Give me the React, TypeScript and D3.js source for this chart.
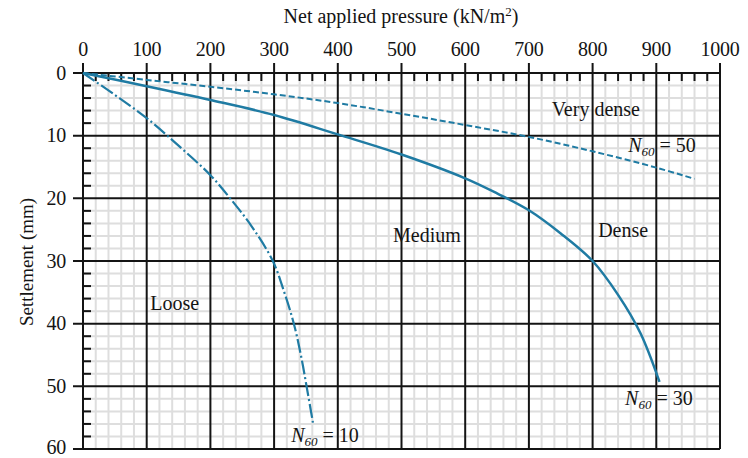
import React from "react";
import * as d3 from "d3";

const W = 748;
const H = 458;

const xTicks = [0, 100, 200, 300, 400, 500, 600, 700, 800, 900, 1000];
const yTicks = [0, 10, 20, 30, 40, 50, 60];

const n50X = [0, 100, 200, 300, 400, 500, 600, 700, 800, 900, 960];
const n50Y = [0, 1.1, 2.2, 3.4, 4.8, 6.5, 8.3, 10.2, 12.5, 15.1, 16.9];

const n30X = [0, 100, 200, 300, 400, 500, 600, 650, 700, 750, 800, 840, 875, 905];
const n30Y = [0, 2.1, 4.3, 6.7, 9.8, 13.0, 16.8, 19.2, 21.9, 25.6, 30, 35.4, 41.5, 49.3];

const n10X = [0, 50, 100, 150, 200, 231, 265, 298, 316, 331, 342, 351, 361];
const n10Y = [0, 3.5, 7.2, 11.6, 16.3, 20, 24.5, 30, 35, 40, 45, 50, 55.8];

const regionLabels = ["Very dense", "Medium", "Dense", "Loose"];
const regionX = [805, 540, 848, 144];
const regionY = [6.9, 27.0, 26.2, 37.8];

const curveLabelValues = ["50", "30", "10"];
const curveLabelX = [909, 904, 380];
const curveLabelY = [12.6, 52.9, 58.9];

const BLUE = "#1f7ba3";
const INK = "#141414";
const FONT = "'Liberation Serif', 'Times New Roman', serif";

export default function App() {
  const x = d3.scaleLinear().domain([0, 1000]).range([83, 720]);
  const y = d3.scaleLinear().domain([0, 60]).range([73, 449]);

  const minorX = d3.range(0, 1001, 20).filter((v) => v % 100 !== 0);
  const minorY = d3.range(0, 61, 2).filter((v) => v % 10 !== 0);

  const line = d3
    .line<[number, number]>()
    .x((d) => x(d[0]))
    .y((d) => y(d[1]))
    .curve(d3.curveCatmullRom.alpha(0.5));

  const p50 = line(n50X.map((v, i) => [v, n50Y[i]]));
  const p30 = line(n30X.map((v, i) => [v, n30Y[i]]));
  const p10 = line(n10X.map((v, i) => [v, n10Y[i]]));

  return (
    <svg
      width={W}
      height={H}
      style={{ position: "absolute", left: 0, top: 0, background: "#fff" }}
      fontFamily={FONT}
    >
      {/* minor grid */}
      <g stroke="#dedede" strokeWidth={2}>
        {minorX.map((v) => (
          <line key={"mx" + v} x1={x(v)} x2={x(v)} y1={y(0)} y2={y(60)} />
        ))}
        {minorY.map((v) => (
          <line key={"my" + v} x1={x(0)} x2={x(1000)} y1={y(v)} y2={y(v)} />
        ))}
      </g>
      {/* minor ticks */}
      <g stroke={INK} strokeWidth={2}>
        {minorX.map((v) => (
          <line key={"tx" + v} x1={x(v)} x2={x(v)} y1={y(0)} y2={y(0) + 8} />
        ))}
        {minorY.map((v) => (
          <line key={"ty" + v} x1={x(0)} x2={x(0) + 8} y1={y(v)} y2={y(v)} />
        ))}
      </g>
      {/* major grid */}
      <g stroke={INK} strokeWidth={2}>
        {xTicks.map((v) => (
          <line key={"Mx" + v} x1={x(v)} x2={x(v)} y1={y(0) - 10} y2={y(60)} />
        ))}
        {yTicks.map((v) => (
          <line key={"My" + v} x1={x(0) - 10} x2={x(1000)} y1={y(v)} y2={y(v)} />
        ))}
      </g>
      {/* tick labels */}
      <g fill={INK} fontSize={20}>
        {xTicks.map((v) => (
          <text key={"lx" + v} x={x(v)} y={56} textAnchor="middle" letterSpacing={-0.3}>
            {v}
          </text>
        ))}
        {yTicks.map((v) => (
          <text
            key={"ly" + v}
            x={66}
            y={y(v) - (v === 60 ? 2 : 0)}
            dy="0.33em"
            textAnchor="end"
            letterSpacing={-0.3}
          >
            {v}
          </text>
        ))}
      </g>
      <text x={401} y={23} textAnchor="middle" fontSize={20} fill={INK}>
        Net applied pressure (kN/m<tspan dy={-7} fontSize={13}>2</tspan>
        <tspan dy={7}>)</tspan>
      </text>
      <text
        transform="translate(33,262) rotate(-90)"
        textAnchor="middle"
        fontSize={19}
        fill={INK}
      >
        Settlement (mm)
      </text>

      {/* curves */}
      <path d={p50 ?? ""} fill="none" stroke={BLUE} strokeWidth={2} strokeDasharray="6 3" />
      <path d={p30 ?? ""} fill="none" stroke={BLUE} strokeWidth={2.5} />
      <path d={p10 ?? ""} fill="none" stroke={BLUE} strokeWidth={2.2} strokeDasharray="14 3 2 3" />

      {/* region labels */}
      <g fill={INK} fontSize={20}>
        {regionLabels.map((t, i) => (
          <text key={t} x={x(regionX[i])} y={y(regionY[i])} textAnchor="middle">
            {t}
          </text>
        ))}
      </g>
      {/* N60 labels */}
      <g fill={INK} fontSize={20}>
        {curveLabelValues.map((t, i) => (
          <text key={t} x={x(curveLabelX[i])} y={y(curveLabelY[i])} textAnchor="middle">
            <tspan fontStyle="italic">N</tspan>
            <tspan fontStyle="italic" fontSize={13} dy={4}>60</tspan>
            <tspan dy={-4}> = {t}</tspan>
          </text>
        ))}
      </g>
    </svg>
  );
}
